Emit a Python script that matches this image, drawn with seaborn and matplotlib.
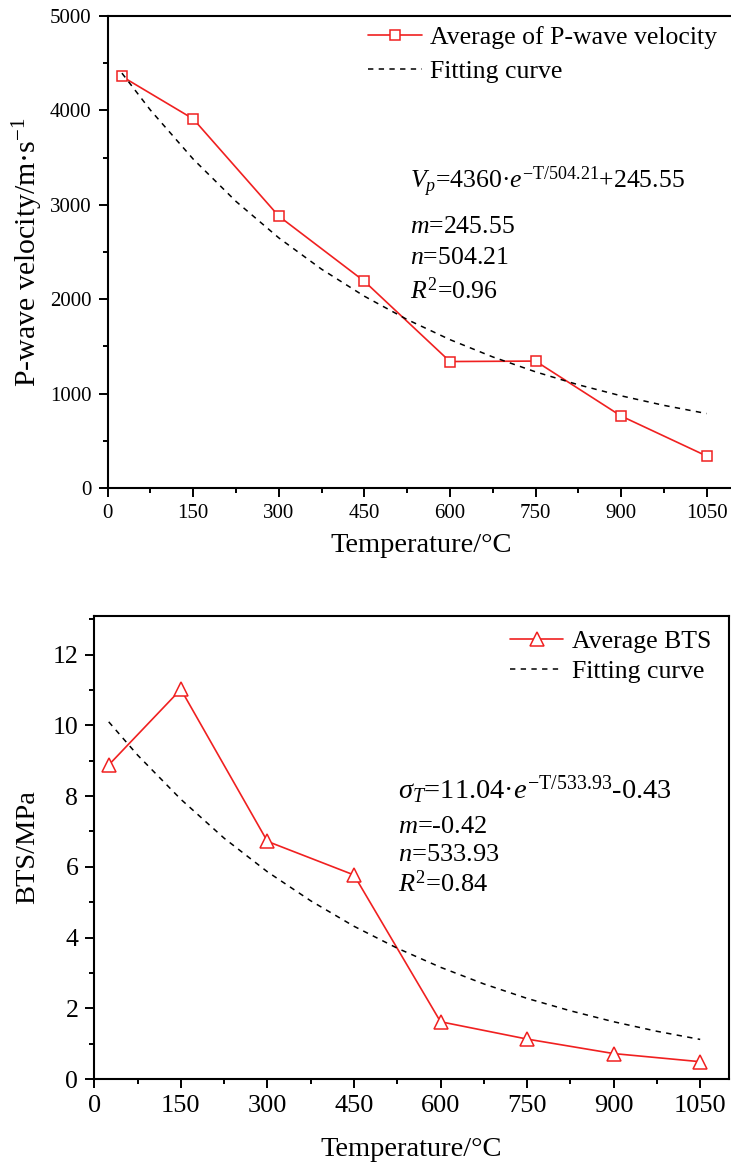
import matplotlib
matplotlib.use('Agg')
import matplotlib.pyplot as plt
import seaborn as sns
from matplotlib.ticker import MultipleLocator, FixedLocator
from matplotlib.lines import Line2D

# ---------------- data ----------------
temps = [25, 150, 300, 450, 600, 750, 900, 1050]
vp_avg = [4360, 3910, 2880, 2190, 1340, 1345, 763, 339]
bts_avg = [8.88, 11.02, 6.72, 5.77, 1.62, 1.13, 0.72, 0.49]

fit_temps = [25, 75, 150, 225, 300, 375, 450, 525, 600, 675, 750, 825, 900, 975, 1050]
vp_fit = [4395, 4003, 3484, 3036, 2650, 2318, 2032, 1785, 1572, 1389, 1231, 1094, 977, 876, 789]
bts_fit = [10.10, 9.16, 7.91, 6.81, 5.86, 5.04, 4.32, 3.70, 3.16, 2.69, 2.28, 1.93, 1.62, 1.35, 1.12]

x_ticks = [0, 150, 300, 450, 600, 750, 900, 1050]
vp_ticks = [0, 1000, 2000, 3000, 4000, 5000]
bts_ticks = [0, 2, 4, 6, 8, 10, 12]

vp_legend = ["Average of P-wave velocity", "Fitting curve"]
bts_legend = ["Average BTS", "Fitting curve"]

vp_text = ["$V_p$=4360·$e^{\\mathrm{-T/504.21}}$+245.55", "$m$=245.55", "$n$=504.21", "$R^2$=0.96"]
bts_text = ["$\\sigma_T$=11.04·$e^{\\mathrm{-T/533.93}}$-0.43", "$m$=-0.42", "$n$=533.93", "$R^2$=0.84"]

# ---------------- style ----------------
sns.set_theme(style='ticks')
plt.rcParams['font.family'] = ['Liberation Serif', 'DejaVu Serif']
plt.rcParams['mathtext.fontset'] = 'custom'
plt.rcParams['mathtext.rm'] = 'Liberation Serif'
plt.rcParams['mathtext.it'] = 'Liberation Serif:italic'
plt.rcParams['mathtext.bf'] = 'Liberation Serif:bold'
plt.rcParams['axes.linewidth'] = 1.5
plt.rcParams['axes.edgecolor'] = 'black'
plt.rcParams['text.color'] = 'black'
plt.rcParams['axes.labelcolor'] = 'black'
plt.rcParams['xtick.color'] = 'black'
plt.rcParams['ytick.color'] = 'black'

RED = '#f02020'
DASH = (0, (3.5, 3.5))

fig = plt.figure(figsize=(7.31, 11.62), dpi=100)
ax1 = fig.add_axes([0.1473, 0.5800, 0.8584, 0.4062])
ax2 = fig.add_axes([0.1290, 0.0714, 0.8683, 0.3987])


def style_axes(ax, yticks, yminor, xfs, yfs):
    ax.set_xlim(0, 1100)
    ax.xaxis.set_major_locator(FixedLocator(x_ticks))
    ax.xaxis.set_minor_locator(MultipleLocator(75))
    ax.yaxis.set_major_locator(FixedLocator(yticks))
    ax.yaxis.set_minor_locator(MultipleLocator(yminor))
    ax.tick_params(which='major', direction='out', length=6.5, width=1.4,
                   pad=5, colors='black')
    ax.tick_params(axis='x', which='major', labelsize=xfs)
    ax.tick_params(axis='y', which='major', labelsize=yfs)
    ax.tick_params(which='minor', direction='out', length=3.5, width=1.4)
    ax.tick_params(top=False, right=False, which='both')
    for s in ax.spines.values():
        s.set_visible(True)
        s.set_linewidth(1.5)
        s.set_color('black')
    ax.grid(False)
    ax.set_facecolor('white')


# ---------------- top: P-wave ----------------
sns.lineplot(x=temps, y=vp_avg, ax=ax1, color=RED, linewidth=1.2, marker='s',
             markersize=7.8, markerfacecolor='white', markeredgecolor=RED,
             markeredgewidth=1.1, legend=False)
sns.lineplot(x=fit_temps, y=vp_fit, ax=ax1, color='black', linewidth=1.1,
             linestyle=DASH, legend=False)
ax1.set_ylim(0, 5000)
style_axes(ax1, vp_ticks, 500, 15, 15)
ax1.set_xlabel("Temperature/°C", fontsize=20.5)
ax1.set_ylabel("P-wave velocity/m·s$^{\\mathrm{-1}}$", fontsize=21.5)
ax1.xaxis.set_label_coords(0.5, -0.121)
ax1.xaxis.label.set_verticalalignment('center')
ax1.yaxis.set_label_coords(-0.127, 0.5)
ax1.yaxis.label.set_verticalalignment('center')

h1 = [Line2D([], [], color=RED, linewidth=1.2, marker='s', markersize=7.8,
             markerfacecolor='white', markeredgecolor=RED, markeredgewidth=1.1),
      Line2D([], [], color='black', linewidth=1.1, linestyle=DASH)]
ax1.legend(h1, vp_legend, loc='upper left', bbox_to_anchor=(0.415, 0.978),
           frameon=False, fontsize=18.5, handlelength=2.1, handletextpad=0.3,
           labelspacing=0.4, borderpad=0, borderaxespad=0)

ys1 = [0.648, 0.553, 0.487, 0.419]
for t, y in zip(vp_text, ys1):
    ax1.text(0.482, y, t, transform=ax1.transAxes, fontsize=18.5,
             ha='left', va='center', color='black')

# ---------------- bottom: BTS ----------------
sns.lineplot(x=temps, y=bts_avg, ax=ax2, color=RED, linewidth=1.2, marker='^',
             markersize=9.5, markerfacecolor='white', markeredgecolor=RED,
             markeredgewidth=1.1, legend=False)
sns.lineplot(x=fit_temps, y=bts_fit, ax=ax2, color='black', linewidth=1.1,
             linestyle=DASH, legend=False)
ax2.set_ylim(0, 13.1)
style_axes(ax2, bts_ticks, 1, 19, 18.5)
ax2.set_xlabel("Temperature/°C", fontsize=20.5)
ax2.set_ylabel("BTS/MPa", fontsize=20.5)
ax2.xaxis.set_label_coords(0.5, -0.153)
ax2.xaxis.label.set_verticalalignment('center')
ax2.yaxis.set_label_coords(-0.1045, 0.5)
ax2.yaxis.label.set_verticalalignment('center')

h2 = [Line2D([], [], color=RED, linewidth=1.2, marker='^', markersize=9.5,
             markerfacecolor='white', markeredgecolor=RED, markeredgewidth=1.1),
      Line2D([], [], color='black', linewidth=1.1, linestyle=DASH)]
ax2.legend(h2, bts_legend, loc='upper left', bbox_to_anchor=(0.655, 0.970),
           frameon=False, fontsize=18.5, handlelength=2.06, handletextpad=0.35,
           labelspacing=0.28, borderpad=0, borderaxespad=0)

ys2 = [0.624, 0.544, 0.483, 0.421]
sizes2 = [20.5, 19, 19, 19]
for t, y, fs in zip(bts_text, ys2, sizes2):
    ax2.text(0.478, y, t, transform=ax2.transAxes, fontsize=fs,
             ha='left', va='center', color='black')

fig.savefig('out.png', dpi=100, facecolor='white')
